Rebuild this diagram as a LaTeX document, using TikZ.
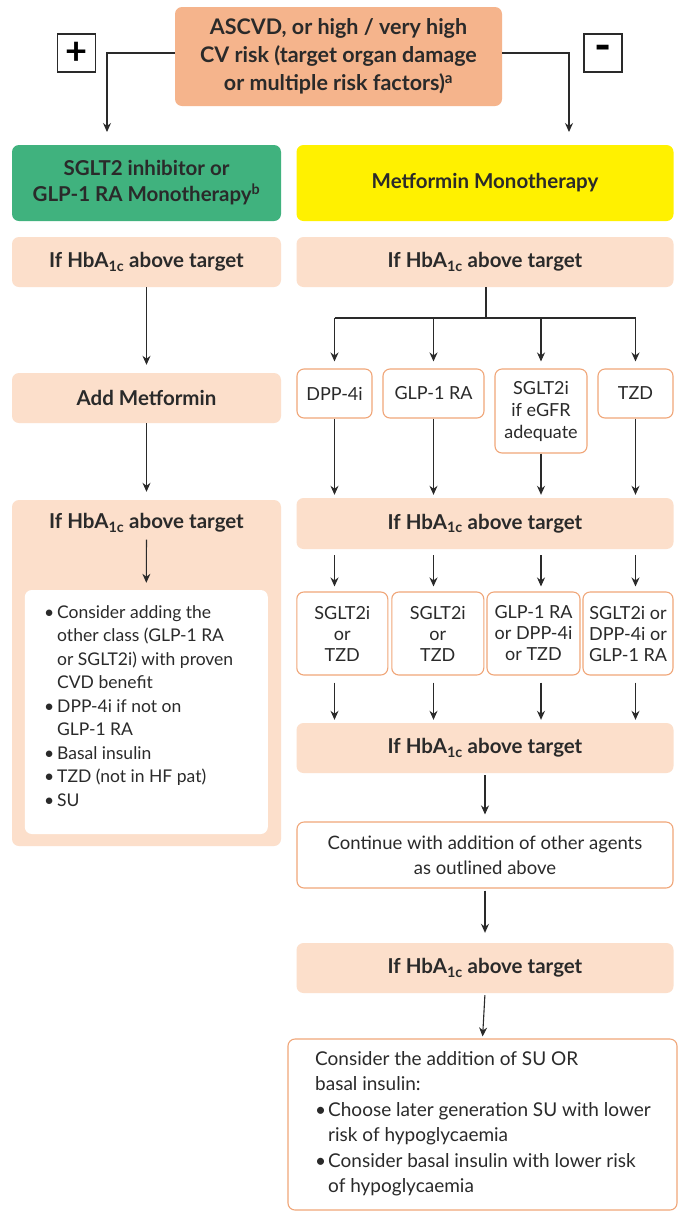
\documentclass[tikz,border=0pt]{standalone}
\usepackage{fontspec}
\setmainfont{Lato}
\usetikzlibrary{arrows.meta,calc}
\definecolor{peach}{HTML}{F5B48C}
\definecolor{lpeach}{HTML}{FCDFCB}
\definecolor{grn}{HTML}{40B27E}
\definecolor{yel}{HTML}{FFF100}
\definecolor{bord}{HTML}{F0A679}
\definecolor{ink}{HTML}{2A2A2A}
\begin{document}
\begin{tikzpicture}[x=1pt,y=-1pt,
  base/.style={rounded corners=7pt, align=center, inner sep=0pt, text=ink},
  hfont/.style={font=\fontsize{20.5}{26}\selectfont\bfseries},
  tfont/.style={font=\fontsize{18}{24}\selectfont},
  topbox/.style={base, fill=peach, font=\fontsize{21.5}{28}\selectfont\bfseries},
  signbox/.style={draw=ink, line width=1.1pt, fill=white, inner sep=0pt, minimum width=38, minimum height=38},
  greenbox/.style={base, hfont, fill=grn},
  yelbox/.style={base, hfont, fill=yel},
  hbox/.style={base, hfont, fill=lpeach},
  wbox/.style={base, tfont, draw=bord, line width=1.1pt, fill=white},
  ibox/.style={base, fill=white},
  line/.style={draw=ink, line width=1.1pt},
  arr/.style={line, -{Stealth[length=9pt,width=8pt]}},
]
\useasboundingbox[fill=white] (0,0) rectangle (679,1211);

% top
\node[topbox, minimum width=327, minimum height=99] (top) at (338.5,56.5)
  {ASCVD, or high / very high\\CV risk (target organ damage\\or multiple risk factors)\textsuperscript{a}};
\node[signbox, font=\fontsize{38}{38}\selectfont\bfseries] (plus) at (76.5,53) {+};
\node[signbox, font=\fontsize{46}{46}\selectfont\bfseries] (minus) at (603,53) {-};

\node[greenbox, minimum width=269, minimum height=76] (green) at (146.5,183)
  {SGLT2 inhibitor or\\GLP-1 RA Monotherapy\textsuperscript{b}};
\node[yelbox, minimum width=377, minimum height=76] (yellow) at (485,183)
  {Metformin Monotherapy};

\coordinate (lt) at (107,132);
\coordinate (rt) at (569,132);
\draw[arr] ([yshift=3.5]top.west) -| (lt);
\draw[arr] ([yshift=3.5]top.east) -| (rt);

% left column
\node[hbox, minimum width=269, minimum height=50] (L1) at (146.5,262) {If HbA\textsubscript{1c} above target};
\node[hbox, minimum width=269, minimum height=50] (addm) at (146.5,398) {Add Metformin};
\node[hbox, minimum width=269, minimum height=346] (lbig) at (146.5,673) {};
\node[hfont, text=ink, inner sep=0pt] (ltitle) at (146.5,523) {If HbA\textsubscript{1c} above target};
\node[ibox, minimum width=243, minimum height=244] (inner) at (146.3,712) {};
\node[text=ink, align=left, anchor=north west, inner sep=0pt, font=\fontsize{17.5}{23.5}\selectfont] (innertxt) at (44,605)
  {\makebox[13pt][l]{•}Consider adding the\\
   \hspace*{13pt}other class (GLP-1 RA\\
   \hspace*{13pt}or SGLT2i) with proven\\
   \hspace*{13pt}CVD benefit\\
   \makebox[13pt][l]{•}DPP-4i if not on\\
   \hspace*{13pt}GLP-1 RA\\
   \makebox[13pt][l]{•}Basal insulin\\
   \makebox[13pt][l]{•}TZD (not in HF pat)\\
   \makebox[13pt][l]{•}SU};

\draw[arr, shorten >=8pt] (L1.south) -- (addm.north);
\draw[arr, shorten >=8pt] (addm.south) -- (lbig.north);
\draw[arr, shorten <=7pt, shorten >=7pt] (ltitle.south) -- (inner.north);

% right column
\node[hbox, minimum width=377, minimum height=50] (R1) at (485,262) {If HbA\textsubscript{1c} above target};
\coordinate (fork) at (486,318);
\node[wbox, minimum width=75, minimum height=49] (DPP) at (334.5,393.5) {DPP-4i};
\node[wbox, minimum width=101, minimum height=49] (GLP) at (433.5,393.5) {GLP-1 RA};
\node[wbox, minimum width=92, minimum height=84, font=\fontsize{18}{22}\selectfont] (SGLT) at (541,411) {SGLT2i\\if eGFR\\adequate};
\node[wbox, minimum width=75, minimum height=49] (TZD) at (635.5,393.5) {TZD};

\draw[line] (R1.south -| fork) -- (fork);
\draw[line] (fork -| DPP) -- (fork -| TZD);
\foreach \n in {DPP,GLP,SGLT,TZD}
  \draw[arr, shorten >=7pt] (fork -| \n) -- (\n.north);

\node[hbox, minimum width=377, minimum height=51] (R2) at (485,523.5) {If HbA\textsubscript{1c} above target};
\foreach \n in {DPP,GLP,SGLT,TZD}
  \draw[arr, shorten >=3pt] (\n.south) -- (R2.north -| \n);

\node[wbox, minimum width=91, minimum height=83, font=\fontsize{18}{21}\selectfont] (S1) at (342.3,633.5) {SGLT2i\\or\\TZD};
\node[wbox, minimum width=92, minimum height=83, font=\fontsize{18}{21}\selectfont] (S2) at (437.8,633.5) {SGLT2i\\or\\TZD};
\node[wbox, minimum width=93, minimum height=83, font=\fontsize{18}{21}\selectfont] (S3) at (533.5,633.5) {GLP-1 RA\\or DPP-4i\\or TZD};
\node[wbox, minimum width=90, minimum height=83, font=\fontsize{18}{21}\selectfont] (S4) at (628,633.5) {SGLT2i or\\DPP-4i or\\GLP-1 RA};

\draw[arr, shorten <=6pt, shorten >=5pt] (R2.south -| DPP) -- (S1.north -| DPP);
\draw[arr, shorten <=6pt, shorten >=5pt] (R2.south -| GLP) -- (S2.north -| GLP);
\draw[arr, shorten <=6pt, shorten >=5pt] (R2.south -| SGLT) -- (S3.north -| SGLT);
\draw[arr, shorten <=6pt, shorten >=5pt] (R2.south -| TZD) -- (S4.north -| TZD);

\node[hbox, minimum width=377, minimum height=50] (R3) at (485,748) {If HbA\textsubscript{1c} above target};
\draw[arr, shorten <=7pt, shorten >=3pt] (S1.south -| DPP) -- (R3.north -| DPP);
\draw[arr, shorten <=7pt, shorten >=3pt] (S2.south -| GLP) -- (R3.north -| GLP);
\draw[arr, shorten <=7pt, shorten >=3pt] (S3.south -| SGLT) -- (R3.north -| SGLT);
\draw[arr, shorten <=7pt, shorten >=3pt] (S4.south -| TZD) -- (R3.north -| TZD);

\node[wbox, minimum width=376, minimum height=66, font=\fontsize{18.5}{25}\selectfont] (cont) at (485,855)
  {Continue with addition of other agents\\as outlined above};
\draw[arr, shorten <=2pt, shorten >=7pt] (R3.south) -- (cont.north);

\node[hbox, minimum width=377, minimum height=50] (R4) at (485,968) {If HbA\textsubscript{1c} above target};
\draw[arr, shorten <=2pt, shorten >=10pt] (cont.south) -- (R4.north);

\node[wbox, minimum width=389, minimum height=171] (final) at (482.5,1124.5) {};
\draw[arr, shorten <=2pt, shorten >=2pt] (R4.south) -- (final.north);
\node[text=ink, align=left, anchor=north west, inner sep=0pt, font=\fontsize{19}{25.5}\selectfont] (finaltxt) at (315,1051)
  {Consider the addition of SU OR\\
   basal insulin:\\
   \makebox[13pt][l]{•}Choose later generation SU with lower\\
   \hspace*{13pt}risk of hypoglycaemia\\
   \makebox[13pt][l]{•}Consider basal insulin with lower risk\\
   \hspace*{13pt}of hypoglycaemia};
\end{tikzpicture}
\end{document}
